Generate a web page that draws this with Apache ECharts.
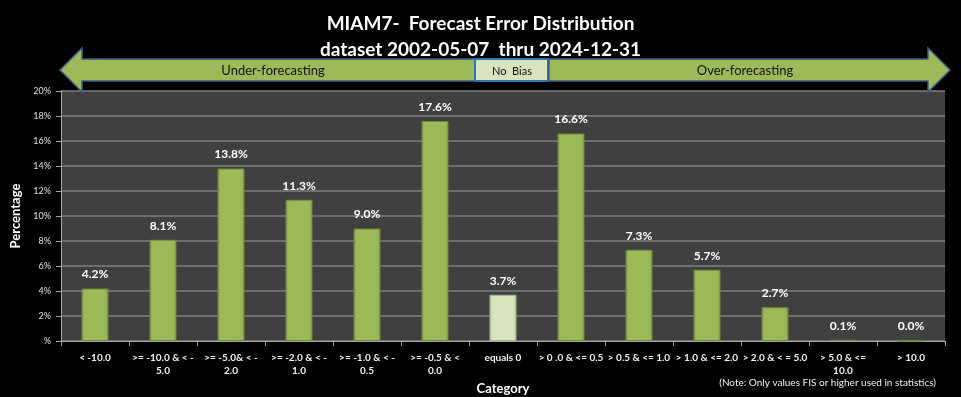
<!DOCTYPE html>
<html><head><meta charset="utf-8">
<script src="https://cdn.jsdelivr.net/npm/echarts@6/dist/echarts.min.js"></script>
<style>html,body{margin:0;padding:0;background:#000;}#c{width:961px;height:397px;}</style>
</head><body><div id="c"></div>
<script>
const categories = ["< -10.0", ">= -10.0 & < -\n5.0", ">= -5.0& < -\n2.0", ">= -2.0 & < -\n1.0", ">= -1.0 & < -\n0.5", ">= -0.5 & <\n0.0", "equals 0", "> 0 .0 & <= 0.5", "> 0.5 & <= 1.0", "> 1.0 & <= 2.0", "> 2.0 & < = 5.0", "> 5.0 & <=\n10.0", "> 10.0"];
const values = [4.2, 8.1, 13.8, 11.3, 9.0, 17.6, 3.7, 16.6, 7.3, 5.7, 2.7, 0.1, 0.0];
const highlightIndex = [6];
const titleLines = ["MIAM7-  Forecast Error Distribution", "dataset 2002-05-07  thru 2024-12-31"];
const bannerLabels = ["Under-forecasting", "No  Bias", "Over-forecasting"];

const FONT = 'Lato, "Open Sans", sans-serif';
const chart = echarts.init(document.getElementById('c'), null, {renderer: 'canvas'});

function barColor(light) {
  return light ? {
    type: 'linear', x: 0, y: 0, x2: 1, y2: 0,
    colorStops: [{offset: 0, color: '#b9c99a'}, {offset: 0.12, color: '#d7e4bd'}, {offset: 0.88, color: '#d7e4bd'}, {offset: 1, color: '#b9c99a'}]
  } : {
    type: 'linear', x: 0, y: 0, x2: 1, y2: 0,
    colorStops: [{offset: 0, color: '#7f9a47'}, {offset: 0.12, color: '#9bbb59'}, {offset: 0.88, color: '#9bbb59'}, {offset: 1, color: '#7f9a47'}]
  };
}

const data = values.map((v, i) => ({
  value: v,
  itemStyle: {color: barColor(highlightIndex.includes(i)), borderColor: highlightIndex.includes(i) ? '#a8b690' : '#6f8a3c', borderWidth: 1}
}));

const arrowFill = '#9bbb59', arrowStroke = '#3b5c86';
const option = {
  backgroundColor: '#000',
  animation: false,
  title: [
    {text: titleLines[0], left: 'center', top: 9, textStyle: {color: '#fff', fontSize: 19, fontWeight: 'bold', fontFamily: FONT}},
    {text: titleLines[1], left: 'center', top: 35, textStyle: {color: '#fff', fontSize: 19, fontWeight: 'bold', fontFamily: FONT}}
  ],
  grid: {left: 61, right: 16, top: 91, bottom: 56, show: true, backgroundColor: '#404040', borderWidth: 0, outerBoundsMode: 'none', containLabel: false},
  xAxis: {
    type: 'category', data: categories,
    name: 'Category', nameLocation: 'middle', nameGap: 36,
    nameTextStyle: {color: '#fff', fontSize: 13, fontWeight: 'bold', fontFamily: FONT},
    axisLine: {lineStyle: {color: '#a6a6a6', width: 1}},
    axisTick: {show: true, length: 5, lineStyle: {color: '#a6a6a6'}},
    axisLabel: {color: '#f2f2f2', fontSize: 10, fontWeight: 'bold', fontFamily: FONT, interval: 0, margin: 10, lineHeight: 13}
  },
  yAxis: {
    type: 'value', min: 0, max: 20, interval: 2,
    name: 'Percentage', nameLocation: 'middle', nameGap: 33, nameRotate: 90,
    nameTextStyle: {color: '#fff', fontSize: 13, fontWeight: 'bold', fontFamily: FONT},
    axisLine: {show: true, lineStyle: {color: '#a6a6a6'}},
    axisTick: {show: true, length: 5, lineStyle: {color: '#a6a6a6'}},
    axisLabel: {color: '#e0e0e0', fontSize: 9, fontFamily: FONT, margin: 10, formatter: v => (v === 0 ? '' : v) + '%'},
    splitLine: {lineStyle: {color: '#7f7f7f', width: 1.5}}
  },
  series: [{
    type: 'bar', data: data, barWidth: 27,
    label: {show: true, position: 'top', distance: 8, color: '#fff', fontSize: 12, fontWeight: 'bold', fontFamily: FONT, formatter: p => p.value.toFixed(1) + '%'}
  }],
  graphic: [
    {type: 'polygon', shape: {points: [[60, 70], [82, 48], [82, 59], [475, 59], [475, 81], [82, 81], [82, 92]]}, style: {fill: arrowFill, stroke: arrowStroke, lineWidth: 1.5}, z: 10},
    {type: 'rect', shape: {x: 475, y: 59, width: 73, height: 22}, style: {fill: '#d7e4bd', stroke: '#2e75b6', lineWidth: 2}, z: 10},
    {type: 'polygon', shape: {points: [[549, 59], [928, 59], [928, 48], [950, 70], [928, 92], [928, 81], [549, 81]]}, style: {fill: arrowFill, stroke: arrowStroke, lineWidth: 1.5}, z: 10},
    {type: 'text', x: 273, y: 71, style: {text: bannerLabels[0], fill: '#111', font: '13px ' + FONT, textAlign: 'center', textVerticalAlign: 'middle'}, z: 11},
    {type: 'text', x: 512, y: 71, style: {text: bannerLabels[1], fill: '#111', font: '11px ' + FONT, textAlign: 'center', textVerticalAlign: 'middle'}, z: 11},
    {type: 'text', x: 745, y: 71, style: {text: bannerLabels[2], fill: '#111', font: '13px ' + FONT, textAlign: 'center', textVerticalAlign: 'middle'}, z: 11},
    {type: 'text', x: 936, y: 383, style: {text: '(Note: Only values FIS or higher used in statistics)', fill: '#f2f2f2', font: '10px ' + FONT, textAlign: 'right', textVerticalAlign: 'middle'}, z: 11}
  ]
};
chart.setOption(option);
</script></body></html>
